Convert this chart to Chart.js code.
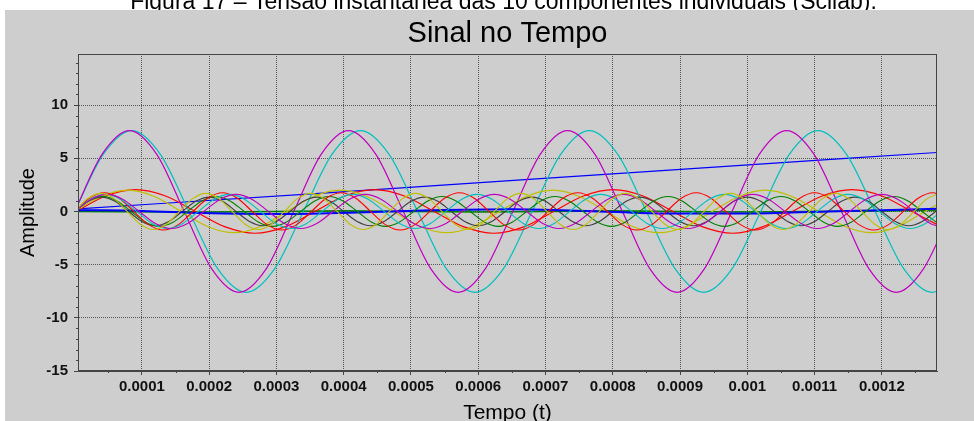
<!DOCTYPE html>
<html>
<head>
<meta charset="utf-8">
<script src="https://cdn.jsdelivr.net/npm/chart.js@4.4.0/dist/chart.umd.min.js"></script>
<style>
  body { margin: 0; background: #fff; }
  canvas { display: block; }
</style>
</head>
<body>
<canvas id="sinal" width="974" height="421"></canvas>
<script>
// tempo em microssegundos, amplitude em volts

// rampa azul
const rampT = [5, 375, 856, 1282];
const rampV = [0.25, 1.75, 3.77, 5.54];

// componentes quase nulas
const greenZeroT = [5, 200, 400, 600, 800, 1000, 1200, 1282];
const greenZeroV = [0.0, -0.05, 0.05, -0.05, 0.05, -0.05, 0.05, 0.1];
const blueZeroT = [5, 100, 190, 300, 420, 530, 650, 760, 880, 1000, 1120, 1200, 1282];
const blueZeroV = [0.12, 0.05, -0.15, -0.25, -0.1, 0.1, 0.2, 0.05, -0.2, -0.2, 0.0, 0.12, 0.25];

// componentes em torno de 3 kHz
const redT = [2, 46.4, 90.8, 135.1, 179.5, 223.9, 268.3, 312.6, 357, 401.4, 445.8, 490.1, 534.5, 578.9, 623.3, 667.6, 712, 756.4, 800.8, 845.1, 889.5, 933.9, 978.3, 1022.6, 1067, 1111.4, 1155.8, 1200.1, 1244.5, 1288.9];
const redV = [0, 1.45, 2.05, 1.45, 0, -1.45, -2.05, -1.45, 0, 1.45, 2.05, 1.45, 0, -1.45, -2.05, -1.45, 0, 1.45, 2.05, 1.45, 0, -1.45, -2.05, -1.45, 0, 1.45, 2.05, 1.45, 0, -1.45];

const cyanT = [0, 42.5, 85, 127.5, 170, 212.5, 255, 297.5, 340, 382.5, 425, 467.5, 510, 552.5, 595, 637.5, 680, 722.5, 765, 807.5, 850, 892.5, 935, 977.5, 1020, 1062.5, 1105, 1147.5, 1190, 1232.5, 1275, 1317.5];
const cyanV = [0, 5.37, 7.6, 5.37, 0, -5.37, -7.6, -5.37, 0, 5.37, 7.6, 5.37, 0, -5.37, -7.6, -5.37, 0, 5.37, 7.6, 5.37, 0, -5.37, -7.6, -5.37, 0, 5.37, 7.6, 5.37, 0, -5.37, -7.6, -5.37];

const magT = [0, 40.7, 81.4, 122.1, 162.9, 203.6, 244.3, 285, 325.7, 366.4, 407.1, 447.8, 488.6, 529.3, 570, 610.7, 651.4, 692.1, 732.8, 773.5, 814.3, 855, 895.7, 936.4, 977.1, 1017.8, 1058.5, 1099.2, 1140, 1180.7, 1221.4, 1262.1, 1302.8];
const magV = [0, 5.37, 7.6, 5.37, 0, -5.37, -7.6, -5.37, 0, 5.37, 7.6, 5.37, 0, -5.37, -7.6, -5.37, 0, 5.37, 7.6, 5.37, 0, -5.37, -7.6, -5.37, 0, 5.37, 7.6, 5.37, 0, -5.37, -7.6, -5.37, 0];

const yellowT = [0, 39.5, 79, 118.5, 158, 197.5, 237, 276.5, 316, 355.5, 395, 434.5, 474, 513.5, 553, 592.5, 632, 671.5, 711, 750.5, 790, 829.5, 869, 908.5, 948, 987.5, 1027, 1066.5, 1106, 1145.5, 1185, 1224.5, 1264, 1303.5];
const yellowV = [0, 1.41, 2, 1.41, 0, -1.41, -2, -1.41, 0, 1.41, 2, 1.41, 0, -1.41, -2, -1.41, 0, 1.41, 2, 1.41, 0, -1.41, -2, -1.41, 0, 1.41, 2, 1.41, 0, -1.41, -2, -1.41, 0, 1.41];

// componentes em torno de 6 kHz
const grayT = [0, 20, 40, 60, 80, 100, 120, 140, 160, 180, 200, 220, 240, 260, 280, 300, 320, 340, 360, 380, 400, 420, 440, 460, 480, 500, 520, 540, 560, 580, 600, 620, 640, 660, 680, 700, 720, 740, 760, 780, 800, 820, 840, 860, 880, 900, 920, 940, 960, 980, 1000, 1020, 1040, 1060, 1080, 1100, 1120, 1140, 1160, 1180, 1200, 1220, 1240, 1260, 1280, 1300];
const grayV = [0, 0.95, 1.35, 0.95, 0, -0.95, -1.35, -0.95, 0, 0.95, 1.35, 0.95, 0, -0.95, -1.35, -0.95, 0, 0.95, 1.35, 0.95, 0, -0.95, -1.35, -0.95, 0, 0.95, 1.35, 0.95, 0, -0.95, -1.35, -0.95, 0, 0.95, 1.35, 0.95, 0, -0.95, -1.35, -0.95, 0, 0.95, 1.35, 0.95, 0, -0.95, -1.35, -0.95, 0, 0.95, 1.35, 0.95, 0, -0.95, -1.35, -0.95, 0, 0.95, 1.35, 0.95, 0, -0.95, -1.35, -0.95, 0, 0.95];

const green2T = [0, 21, 42, 63, 84, 105, 126, 147, 168, 189, 210, 231, 252, 273, 294, 315, 336, 357, 378, 399, 420, 441, 462, 483, 504, 525, 546, 567, 588, 609, 630, 651, 672, 693, 714, 735, 756, 777, 798, 819, 840, 861, 882, 903, 924, 945, 966, 987, 1008, 1029, 1050, 1071, 1092, 1113, 1134, 1155, 1176, 1197, 1218, 1239, 1260, 1281, 1302];
const green2V = [0, 0.99, 1.4, 0.99, 0, -0.99, -1.4, -0.99, 0, 0.99, 1.4, 0.99, 0, -0.99, -1.4, -0.99, 0, 0.99, 1.4, 0.99, 0, -0.99, -1.4, -0.99, 0, 0.99, 1.4, 0.99, 0, -0.99, -1.4, -0.99, 0, 0.99, 1.4, 0.99, 0, -0.99, -1.4, -0.99, 0, 0.99, 1.4, 0.99, 0, -0.99, -1.4, -0.99, 0, 0.99, 1.4, 0.99, 0, -0.99, -1.4, -0.99, 0, 0.99, 1.4, 0.99, 0, -0.99, -1.4];

const red2T = [0, 22, 44, 66, 88, 110, 132, 154, 176, 198, 220, 242, 264, 286, 308, 330, 352, 374, 396, 418, 440, 462, 484, 506, 528, 550, 572, 594, 616, 638, 660, 682, 704, 726, 748, 770, 792, 814, 836, 858, 880, 902, 924, 946, 968, 990, 1012, 1034, 1056, 1078, 1100, 1122, 1144, 1166, 1188, 1210, 1232, 1254, 1276, 1298];
const red2V = [0, 1.24, 1.75, 1.24, 0, -1.24, -1.75, -1.24, 0, 1.24, 1.75, 1.24, 0, -1.24, -1.75, -1.24, 0, 1.24, 1.75, 1.24, 0, -1.24, -1.75, -1.24, 0, 1.24, 1.75, 1.24, 0, -1.24, -1.75, -1.24, 0, 1.24, 1.75, 1.24, 0, -1.24, -1.75, -1.24, 0, 1.24, 1.75, 1.24, 0, -1.24, -1.75, -1.24, 0, 1.24, 1.75, 1.24, 0, -1.24, -1.75, -1.24, 0, 1.24, 1.75, 1.24];

const cyan2T = [0, 23, 46, 69, 92, 115, 138, 161, 184, 207, 230, 253, 276, 299, 322, 345, 368, 391, 414, 437, 460, 483, 506, 529, 552, 575, 598, 621, 644, 667, 690, 713, 736, 759, 782, 805, 828, 851, 874, 897, 920, 943, 966, 989, 1012, 1035, 1058, 1081, 1104, 1127, 1150, 1173, 1196, 1219, 1242, 1265, 1288];
const cyan2V = [0, 1.13, 1.6, 1.13, 0, -1.13, -1.6, -1.13, 0, 1.13, 1.6, 1.13, 0, -1.13, -1.6, -1.13, 0, 1.13, 1.6, 1.13, 0, -1.13, -1.6, -1.13, 0, 1.13, 1.6, 1.13, 0, -1.13, -1.6, -1.13, 0, 1.13, 1.6, 1.13, 0, -1.13, -1.6, -1.13, 0, 1.13, 1.6, 1.13, 0, -1.13, -1.6, -1.13, 0, 1.13, 1.6, 1.13, 0, -1.13, -1.6, -1.13, 0];

const mag2T = [0, 24, 48, 72, 96, 120, 144, 168, 192, 216, 240, 264, 288, 312, 336, 360, 384, 408, 432, 456, 480, 504, 528, 552, 576, 600, 624, 648, 672, 696, 720, 744, 768, 792, 816, 840, 864, 888, 912, 936, 960, 984, 1008, 1032, 1056, 1080, 1104, 1128, 1152, 1176, 1200, 1224, 1248, 1272, 1296];
const mag2V = [0, 1.13, 1.6, 1.13, 0, -1.13, -1.6, -1.13, 0, 1.13, 1.6, 1.13, 0, -1.13, -1.6, -1.13, 0, 1.13, 1.6, 1.13, 0, -1.13, -1.6, -1.13, 0, 1.13, 1.6, 1.13, 0, -1.13, -1.6, -1.13, 0, 1.13, 1.6, 1.13, 0, -1.13, -1.6, -1.13, 0, 1.13, 1.6, 1.13, 0, -1.13, -1.6, -1.13, 0, 1.13, 1.6, 1.13, 0, -1.13, -1.6];

const yellow2T = [0, 19.5, 39, 58.5, 78, 97.5, 117, 136.5, 156, 175.5, 195, 214.5, 234, 253.5, 273, 292.5, 312, 331.5, 351, 370.5, 390, 409.5, 429, 448.5, 468, 487.5, 507, 526.5, 546, 565.5, 585, 604.5, 624, 643.5, 663, 682.5, 702, 721.5, 741, 760.5, 780, 799.5, 819, 838.5, 858, 877.5, 897, 916.5, 936, 955.5, 975, 994.5, 1014, 1033.5, 1053, 1072.5, 1092, 1111.5, 1131, 1150.5, 1170, 1189.5, 1209, 1228.5, 1248, 1267.5, 1287];
const yellow2V = [0, 1.2, 1.7, 1.2, 0, -1.2, -1.7, -1.2, 0, 1.2, 1.7, 1.2, 0, -1.2, -1.7, -1.2, 0, 1.2, 1.7, 1.2, 0, -1.2, -1.7, -1.2, 0, 1.2, 1.7, 1.2, 0, -1.2, -1.7, -1.2, 0, 1.2, 1.7, 1.2, 0, -1.2, -1.7, -1.2, 0, 1.2, 1.7, 1.2, 0, -1.2, -1.7, -1.2, 0, 1.2, 1.7, 1.2, 0, -1.2, -1.7, -1.2, 0, 1.2, 1.7, 1.2, 0, -1.2, -1.7, -1.2, 0, 1.2, 1.7];

const caption = 'Figura 17 – Tensão instantânea das 10 componentes individuais (Scilab).';
const plotTitle = 'Sinal no Tempo';

// cores padrão do Scilab, na ordem das curvas
const BLUE = '#0000ff', GREEN = '#008000', RED = '#ff0000', CYAN = '#00bfbf',
      MAGENTA = '#bf00bf', YELLOW = '#bfbf00', GRAY = '#404040';

const curves = [
  [rampT, rampV, BLUE, 1.2],
  [greenZeroT, greenZeroV, GREEN, 1.6],
  [redT, redV, RED, 1.2],
  [cyanT, cyanV, CYAN, 1.2],
  [magT, magV, MAGENTA, 1.2],
  [yellowT, yellowV, YELLOW, 1.2],
  [grayT, grayV, GRAY, 1.1],
  [blueZeroT, blueZeroV, BLUE, 2],
  [green2T, green2V, GREEN, 1.1],
  [red2T, red2V, RED, 1.1],
  [cyan2T, cyan2V, CYAN, 1.1],
  [mag2T, mag2V, MAGENTA, 1.1],
  [yellow2T, yellow2V, YELLOW, 1.1],
];

const datasets = curves.map(([t, v, color, w], i) => ({
  data: t.map((x, k) => ({ x: x, y: v[k] })).filter(p => p.y !== undefined),
  borderColor: color,
  borderWidth: w,
  pointRadius: 0,
  fill: false,
  cubicInterpolationMode: 'monotone',
  order: curves.length - i,
}));

const FONT = "'Liberation Sans', Arial, sans-serif";
const BG = '#cecece';

// fundo cinza, legenda da figura e título
const frame = {
  id: 'frame',
  beforeDraw(chart) {
    const ctx = chart.ctx;
    ctx.save();
    ctx.fillStyle = '#fff';
    ctx.fillRect(0, 0, chart.width, chart.height);
    ctx.fillStyle = '#000';
    ctx.font = '23px ' + FONT;
    ctx.textAlign = 'center';
    ctx.textBaseline = 'alphabetic';
    ctx.fillText(caption, 503.5, 8.5);
    ctx.fillStyle = BG;
    ctx.fillRect(5, 10, chart.width - 5, chart.height - 10);
    ctx.fillStyle = '#000';
    ctx.font = '29px ' + FONT;
    ctx.fillText(plotTitle, (chart.chartArea.left + chart.chartArea.right) / 2, 42);
    ctx.restore();
  },
  afterDraw(chart) {
    const { ctx, chartArea: a, scales } = chart;
    ctx.save();
    ctx.strokeStyle = '#444';
    ctx.lineWidth = 1;
    ctx.strokeRect(Math.round(a.left) + 0.5, Math.round(a.top) + 0.5,
      Math.round(a.right - a.left) - 1, Math.round(a.bottom - a.top) - 1);
    // marcas secundárias
    ctx.beginPath();
    for (let t = 50; t < scales.x.max; t += 100) {
      const px = Math.round(scales.x.getPixelForValue(t)) + 0.5;
      ctx.moveTo(px, a.bottom);
      ctx.lineTo(px, a.bottom + 2);
    }
    for (let v = -14; v < scales.y.max; v += 1) {
      if (v % 5 === 0) continue;
      const py = Math.round(scales.y.getPixelForValue(v)) + 0.5;
      ctx.moveTo(a.left, py);
      ctx.lineTo(a.left - 2, py);
    }
    ctx.stroke();
    ctx.restore();
  }
};

new Chart(document.getElementById('sinal'), {
  type: 'line',
  data: { datasets },
  plugins: [frame],
  options: {
    responsive: false,
    animation: false,
    devicePixelRatio: 1,
    layout: { padding: { top: 54, right: 37, bottom: 0, left: 0 } },
    plugins: { legend: { display: false }, tooltip: { enabled: false } },
    scales: {
      x: {
        type: 'linear',
        min: 5,
        max: 1282,
        afterFit(scale) { scale.height = 50; },
        ticks: {
          stepSize: 100,
          includeBounds: false,
          maxRotation: 0,
          padding: 3,
          color: '#111',
          font: { family: FONT, size: 15, weight: 'bold' },
          callback: v => String(v / 1e6),
        },
        grid: { color: '#555', tickColor: '#444', tickLength: 4, tickBorderDash: [] },
        border: { display: true, color: '#444', dash: [1, 1] },
        title: {
          display: true,
          text: 'Tempo (t)',
          color: '#000',
          font: { family: FONT, size: 21, lineHeight: 1 },
          padding: { top: 0, bottom: -3 },
        },
      },
      y: {
        type: 'linear',
        min: -15,
        max: 14.8,
        afterFit(scale) { scale.width = 78; },
        ticks: {
          stepSize: 5,
          includeBounds: false,
          padding: 6,
          color: '#111',
          font: { family: FONT, size: 15, weight: 'bold' },
          callback: v => String(v),
        },
        grid: { color: '#555', tickColor: '#444', tickLength: 4, tickBorderDash: [] },
        border: { display: true, color: '#444', dash: [1, 1] },
        title: {
          display: true,
          text: 'Amplitude',
          color: '#000',
          font: { family: FONT, size: 20, lineHeight: 1 },
          padding: { top: 18.5, bottom: 0 },
        },
      },
    },
  },
});
</script>
</body>
</html>
